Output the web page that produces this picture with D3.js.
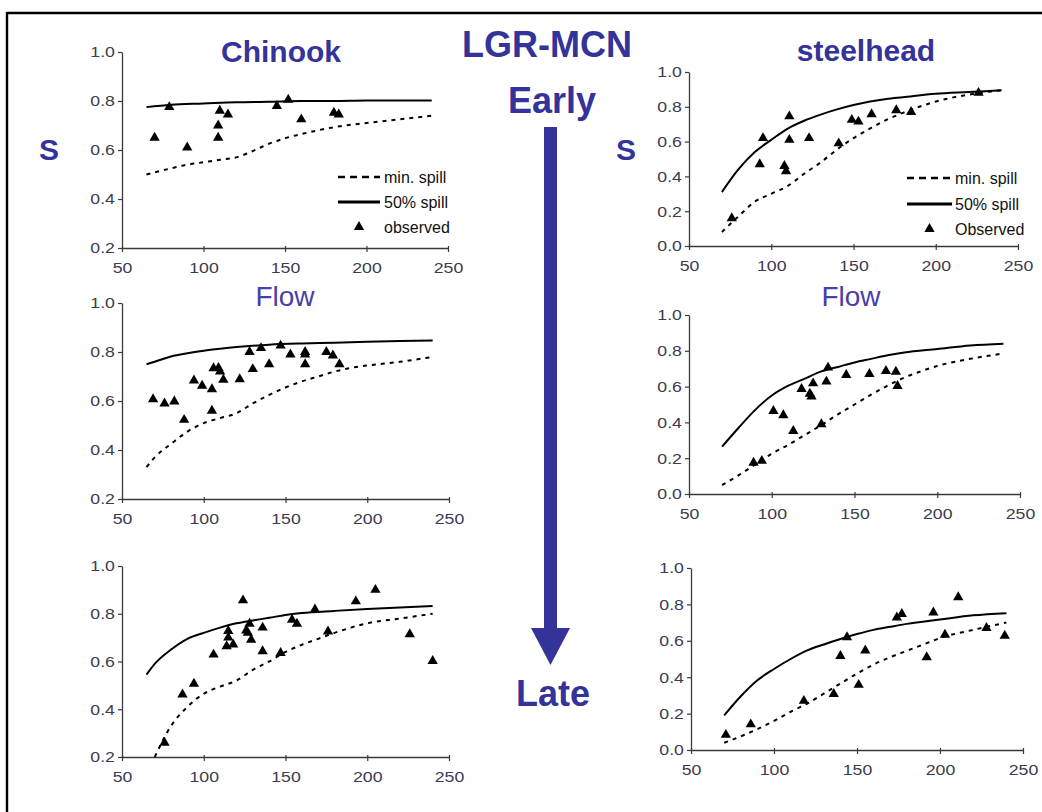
<!DOCTYPE html>
<html><head><meta charset="utf-8">
<script src="https://cdn.jsdelivr.net/npm/d3@7"></script>
<style>body{margin:0;background:#fff} svg{display:block;font-family:"Liberation Sans",Arial,sans-serif}</style>
</head><body><svg id="c" width="1042" height="812"></svg>
<script>
// ---------- DATA ----------
const xTicks = [50, 100, 150, 200, 250];
const yTicksChinook = [0.2, 0.4, 0.6, 0.8, 1.0];
const yTicksSteelhead = [0, 0.2, 0.4, 0.6, 0.8, 1.0];
const legendLabelsChinook = ["min. spill", "50% spill", "observed"];
const legendLabelsSteelhead = ["min. spill", "50% spill", "Observed"];

// Chinook, early
const chinookEarlyMin = [[65,0.50],[80,0.525],[90,0.54],[100,0.55],[110,0.56],[120,0.57],[130,0.595],[140,0.625],[150,0.648],[160,0.665],[170,0.68],[180,0.693],[200,0.71],[220,0.725],[240,0.74]];
const chinookEarlyHalf = [[65,0.775],[80,0.785],[100,0.79],[120,0.795],[140,0.797],[160,0.80],[180,0.80],[200,0.802],[220,0.802],[240,0.802]];
const chinookEarlyObs = [[70,0.65],[79,0.775],[90,0.61],[109,0.65],[109,0.70],[110,0.76],[115,0.745],[145,0.78],[152,0.805],[160,0.725],[180,0.752],[183,0.745]];

// Steelhead, early
const steelheadEarlyMin = [[70,0.08],[80,0.17],[90,0.255],[100,0.30],[110,0.345],[120,0.415],[130,0.48],[140,0.555],[150,0.62],[160,0.675],[170,0.725],[180,0.765],[190,0.80],[200,0.83],[220,0.87],[240,0.895]];
const steelheadEarlyHalf = [[70,0.31],[80,0.44],[90,0.54],[100,0.61],[110,0.675],[120,0.72],[130,0.755],[140,0.785],[150,0.81],[160,0.83],[170,0.845],[180,0.855],[200,0.875],[220,0.885],[240,0.895]];
const steelheadEarlyObs = [[76,0.16],[93,0.47],[95,0.62],[108,0.46],[109,0.43],[111,0.745],[111,0.61],[123,0.62],[141,0.59],[149,0.725],[153,0.715],[161,0.757],[176,0.78],[185,0.77],[226,0.88]];

// Chinook, middle
const chinookMidMin = [[65,0.33],[70,0.37],[80,0.425],[90,0.475],[100,0.51],[110,0.53],[120,0.55],[130,0.59],[140,0.625],[150,0.655],[160,0.68],[170,0.70],[180,0.72],[190,0.735],[200,0.745],[220,0.76],[240,0.78]];
const chinookMidHalf = [[65,0.75],[70,0.76],[80,0.782],[90,0.795],[100,0.805],[110,0.813],[120,0.82],[140,0.83],[160,0.835],[180,0.838],[200,0.842],[220,0.845],[240,0.847]];
const chinookMidObs = [[69,0.607],[76,0.59],[82,0.598],[88,0.523],[94,0.684],[99,0.662],[105,0.648],[105,0.56],[106,0.734],[109,0.735],[110,0.72],[112,0.687],[122,0.689],[128,0.80],[130,0.73],[135,0.816],[140,0.75],[147,0.826],[153,0.79],[162,0.80],[162,0.79],[162,0.75],[175,0.80],[179,0.786],[183,0.75]];

// Steelhead, middle
const steelheadMidMin = [[70,0.05],[80,0.105],[90,0.165],[100,0.225],[110,0.275],[120,0.33],[130,0.385],[140,0.445],[150,0.50],[160,0.555],[170,0.605],[180,0.65],[190,0.685],[200,0.715],[220,0.755],[240,0.785]];
const steelheadMidHalf = [[70,0.265],[80,0.37],[90,0.47],[100,0.55],[110,0.605],[120,0.645],[130,0.685],[140,0.71],[150,0.735],[160,0.755],[170,0.775],[180,0.79],[200,0.81],[220,0.83],[240,0.84]];
const steelheadMidObs = [[89,0.175],[94,0.185],[101,0.464],[107,0.44],[113,0.352],[118,0.587],[123,0.56],[124,0.545],[125,0.618],[130,0.39],[133,0.628],[134,0.706],[145,0.665],[159,0.67],[169,0.687],[175,0.683],[176,0.603]];

// Chinook, late
const chinookLateMin = [[70,0.20],[80,0.33],[90,0.41],[100,0.465],[110,0.495],[120,0.52],[130,0.565],[140,0.60],[150,0.64],[160,0.67],[170,0.695],[180,0.72],[190,0.742],[200,0.76],[220,0.78],[240,0.80]];
const chinookLateHalf = [[65,0.545],[70,0.59],[80,0.65],[90,0.695],[100,0.72],[110,0.742],[120,0.76],[130,0.772],[140,0.783],[150,0.795],[160,0.803],[180,0.812],[200,0.82],[220,0.826],[240,0.832]];
const chinookLateObs = [[76,0.26],[87,0.462],[94,0.507],[106,0.629],[114,0.664],[115,0.728],[115,0.70],[118,0.671],[124,0.856],[126,0.73],[127,0.72],[128,0.758],[129,0.691],[136,0.643],[136,0.742],[147,0.636],[154,0.775],[157,0.758],[168,0.818],[176,0.726],[193,0.852],[205,0.90],[226,0.714],[240,0.602]];

// Steelhead, late
const steelheadLateMin = [[70,0.04],[80,0.075],[90,0.115],[100,0.16],[110,0.21],[120,0.255],[130,0.31],[140,0.365],[150,0.42],[160,0.47],[170,0.51],[180,0.545],[190,0.58],[200,0.615],[220,0.66],[240,0.70]];
const steelheadLateHalf = [[70,0.19],[80,0.295],[90,0.383],[100,0.445],[110,0.50],[120,0.547],[130,0.58],[140,0.61],[150,0.637],[160,0.66],[170,0.677],[180,0.693],[200,0.717],[220,0.74],[240,0.752]];
const steelheadLateObs = [[71,0.083],[86,0.141],[118,0.27],[136,0.308],[140,0.517],[144,0.62],[151,0.358],[155,0.547],[174,0.728],[177,0.747],[192,0.51],[196,0.756],[203,0.633],[211,0.839],[228,0.67],[239,0.628]];

// ---------- DRAW ----------
const BLUE = "#333399";
const svg = d3.select("#c");

// frame
svg.append("line").attr("x1",7).attr("y1",13).attr("x2",1042).attr("y2",13).attr("stroke","#000").attr("stroke-width",2.6);
svg.append("line").attr("x1",7).attr("y1",12).attr("x2",7).attr("y2",812).attr("stroke","#000").attr("stroke-width",2.4);

const panels = [
  {x0:122,x1:448,y0:248,y1:52,yDom:[0.2,1],yTicks:yTicksChinook,min:chinookEarlyMin,half:chinookEarlyHalf,obs:chinookEarlyObs,
   legend:{lx0:338,lx1:380,ys:[177,202,227],tx:384,labels:legendLabelsChinook}},
  {x0:689,x1:1018,y0:246,y1:72,yDom:[0,1],yTicks:yTicksSteelhead,min:steelheadEarlyMin,half:steelheadEarlyHalf,obs:steelheadEarlyObs,
   legend:{lx0:907,lx1:952,ys:[178,204,229],tx:955,labels:legendLabelsSteelhead}},
  {x0:122,x1:449,y0:499,y1:303,yDom:[0.2,1],yTicks:yTicksChinook,min:chinookMidMin,half:chinookMidHalf,obs:chinookMidObs},
  {x0:689,x1:1020,y0:494,y1:315,yDom:[0,1],yTicks:yTicksSteelhead,min:steelheadMidMin,half:steelheadMidHalf,obs:steelheadMidObs},
  {x0:122,x1:449,y0:757,y1:566,yDom:[0.2,1],yTicks:yTicksChinook,min:chinookLateMin,half:chinookLateHalf,obs:chinookLateObs},
  {x0:691,x1:1023,y0:750,y1:568,yDom:[0,1],yTicks:yTicksSteelhead,min:steelheadLateMin,half:steelheadLateHalf,obs:steelheadLateObs}
];

const tri = d3.symbol(d3.symbolTriangle, 46);

panels.forEach(p => {
  const x = d3.scaleLinear().domain([50,250]).range([p.x0,p.x1]);
  const y = d3.scaleLinear().domain(p.yDom).range([p.y0,p.y1]);
  const g = svg.append("g");

  const ya = g.append("g").attr("transform",`translate(${p.x0},0)`)
    .call(d3.axisLeft(y).tickValues(p.yTicks).tickFormat(d3.format(".1f")).tickSize(4).tickSizeOuter(0).tickPadding(2));
  const xa = g.append("g").attr("transform",`translate(0,${p.y0})`)
    .call(d3.axisBottom(x).tickValues(xTicks).tickSize(4).tickSizeOuter(0).tickPadding(10));
  [ya, xa].forEach(a => {
    a.select(".domain").attr("stroke","#3a3a3a").attr("stroke-width",1.3);
    a.selectAll(".tick line").attr("stroke","#3a3a3a").attr("stroke-width",1.2);
    a.selectAll(".tick text").attr("fill","#3c3c4e").style("font-size","15px")
      .style("font-family",'"Liberation Sans",Arial,sans-serif');
  });
  ya.selectAll(".tick text").attr("transform","scale(1.18,1)");
  xa.selectAll(".tick text").attr("transform","scale(1.18,1)");
  xa.selectAll(".tick line").attr("y1",-2).attr("y2",4);

  const line = d3.line().x(d=>x(d[0])).y(d=>y(d[1])).curve(d3.curveMonotoneX);
  g.append("path").datum(p.min).attr("d",line).attr("fill","none").attr("stroke","#000")
    .attr("stroke-width",2).attr("stroke-dasharray","4,5");
  g.append("path").datum(p.half).attr("d",line).attr("fill","none").attr("stroke","#000")
    .attr("stroke-width",2);
  g.selectAll("path.tri").data(p.obs).join("path").attr("class","tri")
    .attr("d",tri).attr("fill","#000")
    .attr("transform",d=>`translate(${x(d[0])},${y(d[1])})`);

  if (p.legend) {
    const L = p.legend;
    g.append("line").attr("x1",L.lx0).attr("x2",L.lx1).attr("y1",L.ys[0]).attr("y2",L.ys[0])
      .attr("stroke","#000").attr("stroke-width",2.6).attr("stroke-dasharray","7,5");
    g.append("line").attr("x1",L.lx0).attr("x2",L.lx1).attr("y1",L.ys[1]).attr("y2",L.ys[1])
      .attr("stroke","#000").attr("stroke-width",3);
    g.append("path").attr("d",tri).attr("fill","#000")
      .attr("transform",`translate(${(L.lx0+L.lx1)/2},${L.ys[2]})`);
    L.labels.forEach((t,i) => {
      g.append("text").attr("x",L.tx).attr("y",L.ys[i]).attr("dy","0.35em")
        .attr("fill","#111").style("font-size","16px").text(t);
    });
  }
});

// titles & annotations
function txt(x, y, s, size, weight, color) {
  svg.append("text").attr("x",x).attr("y",y).attr("text-anchor","middle")
    .attr("fill",color).style("font-size",size+"px").style("font-weight",weight).text(s);
}
txt(281, 62, "Chinook", 30, "bold", BLUE);
txt(866, 61, "steelhead", 30, "bold", BLUE);
txt(547, 57, "LGR-MCN", 36, "bold", BLUE);
txt(552, 113, "Early", 36, "bold", BLUE);
txt(553, 706, "Late", 36, "bold", BLUE);
txt(49, 160, "S", 30, "bold", BLUE);
txt(626, 160, "S", 30, "bold", BLUE);
txt(285, 306, "Flow", 28, "normal", "#4a3fa8");
txt(851, 306, "Flow", 28, "normal", "#4a3fa8");

// arrow
svg.append("rect").attr("x",544).attr("y",127).attr("width",13).attr("height",503).attr("fill",BLUE);
svg.append("path").attr("d","M531,628 L570,628 L550.5,665 Z").attr("fill",BLUE);
</script></body></html>
